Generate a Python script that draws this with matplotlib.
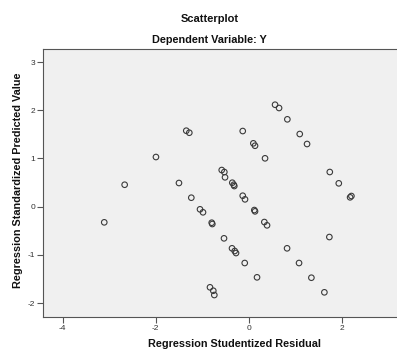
import matplotlib
matplotlib.use("Agg")
import matplotlib.pyplot as plt

plt.rcParams['font.family'] = ['Liberation Sans', 'DejaVu Sans']
plt.rcParams['axes.unicode_minus'] = False

title = "Scatterplot"
subtitle = "Dependent Variable: Y"
x_label = "Regression Studentized Residual"
y_label = "Regression Standardized Predicted Value"

residual = [-3.105, -2.667, -1.995, -1.501, -1.344, -1.279, -1.236, -1.049, -0.985,
            -0.835, -0.764, -0.742, -0.798, -0.785, -0.583, -0.527, -0.512, -0.534,
            -0.356, -0.325, -0.313, -0.362, -0.304, -0.276, -0.132, -0.132, -0.083,
            -0.089, 0.096, 0.132, 0.117, 0.132, 0.175, 0.347, 0.332, 0.390, 0.562,
            0.648, 0.826, 0.820, 1.092, 1.249, 1.077, 1.342, 1.621, 1.737, 1.930,
            1.728, 2.173, 2.201]
predicted = [-0.326, 0.454, 1.029, 0.490, 1.575, 1.533, 0.185, -0.056, -0.118,
             -1.674, -1.745, -1.834, -0.334, -0.361, 0.759, 0.718, 0.608, -0.658,
             0.496, 0.454, 0.427, -0.865, -0.921, -0.963, 1.568, 0.226, 0.151,
             -1.170, 1.313, 1.263, -0.071, -0.098, -1.467, 1.002, -0.320, -0.388, 2.114,
             2.046, 1.811, -0.865, 1.506, 1.299, -1.170, -1.475, -1.778, 0.718, 0.483,
             -0.631, 0.193, 0.220]

x_ticks = [-4, -2, 0, 2]
y_ticks = [-2, -1, 0, 1, 2, 3]

W, H = 397, 349
fig = plt.figure(figsize=(W / 100, H / 100), dpi=100)
fig.patch.set_facecolor('white')
ax = fig.add_axes([43 / W, (H - 317) / H, 1.02 - 43 / W, (317 - 49) / H])
ax.set_facecolor('#f0f0f0')

ax.scatter(residual, predicted, s=16, facecolors='none', edgecolors='#3a3a3a',
           linewidths=0.8, zorder=3)

ax.set_xlim(-4.42, 3.18 + 0.02 * W / 46.55)
ax.set_ylim(-2.29, 3.27)
ax.set_xticks(x_ticks)
ax.set_yticks(y_ticks)
ax.set_xticklabels([str(t) for t in x_ticks])
ax.set_yticklabels([str(t) for t in y_ticks])
ax.tick_params(axis='both', direction='out', length=4, width=0.8, color='#555555',
               labelsize=6, labelcolor='#333333', pad=1.5)
for side in ['left', 'bottom', 'top', 'right']:
    ax.spines[side].set_color('#555555')
    ax.spines[side].set_linewidth(0.8)

fig.text(210 / W, 1 - 19 / H, title, ha='center', va='center', fontsize=8,
         fontweight='bold', color='#111111')
fig.text(209 / W, 1 - 40 / H, subtitle, ha='center', va='center', fontsize=7.8,
         fontweight='bold', color='#111111')
fig.text(235 / W, 1 - 344 / H, x_label, ha='center', va='center', fontsize=7.8,
         fontweight='bold', color='#111111')
fig.text(18 / W, 1 - 180 / H, y_label, ha='center', va='center', fontsize=7.8,
         fontweight='bold', rotation=90, color='#111111')

fig.savefig('out.png', dpi=100)
